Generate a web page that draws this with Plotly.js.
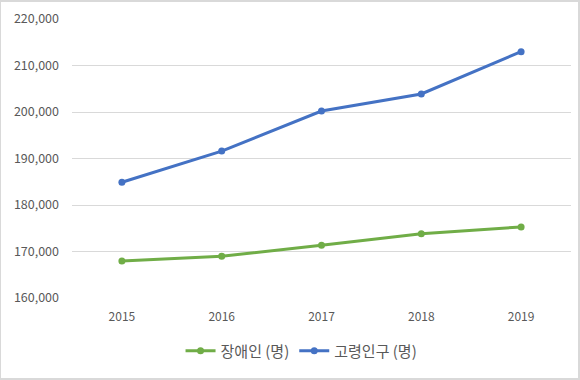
<!DOCTYPE html>
<html>
<head>
<meta charset="utf-8">
<script src="https://cdn.plot.ly/plotly-3.0.1.min.js"></script>
<style>html,body{margin:0;padding:0;background:#fff}#chart{width:580px;height:380px}</style>
</head>
<body>
<div id="chart"></div>
<script>
const years = ["2015", "2016", "2017", "2018", "2019"];
const disabledName = "장애인 (명)";
const disabledValues = [167950, 168980, 171330, 173830, 175270];
const elderlyName = "고령인구 (명)";
const elderlyValues = [184900, 191600, 200200, 203870, 212970];
const yTickValues = [160000, 170000, 180000, 190000, 200000, 210000, 220000];

const font = "'Noto Sans CJK KR', 'Noto Sans', sans-serif";
const traces = [
  {x: years, y: disabledValues, name: disabledName, type: "scatter", mode: "lines+markers",
   line: {color: "#70AD47", width: 3}, marker: {color: "#70AD47", size: 7}},
  {x: years, y: elderlyValues, name: elderlyName, type: "scatter", mode: "lines+markers",
   line: {color: "#4472C4", width: 3}, marker: {color: "#4472C4", size: 7}}
];
const layout = {
  width: 580, height: 380,
  margin: {l: 72, r: 9, t: 19, b: 82},
  paper_bgcolor: "#fff", plot_bgcolor: "#fff",
  font: {family: font, size: 12, color: "#595959"},
  xaxis: {type: "category", range: [-0.5, 4.5], showgrid: false, zeroline: false, showline: false,
          ticks: "", ticklabelstandoff: 10, tickfont: {size: 12, color: "#595959"}},
  yaxis: {range: [160000, 220000], tickvals: yTickValues, tickformat: ",d", showgrid: true,
          gridcolor: "#d9d9d9", gridwidth: 1, zeroline: false, showline: false, ticks: "",
          ticklabelstandoff: 12, tickfont: {size: 12.5, color: "#595959"}},
  showlegend: true,
  legend: {orientation: "h", x: 0.46, xanchor: "center", y: -0.19, yanchor: "middle",
           font: {size: 15, color: "#595959"}, itemwidth: 30},
  shapes: [{type: "rect", xref: "paper", yref: "paper", x0: -72/499, x1: 1 + 8/499, y0: -81/279, y1: 1 + 18/279,
            line: {color: "#d9d9d9", width: 2}}]
};
Plotly.newPlot("chart", traces, layout, {displayModeBar: false, staticPlot: true});
</script>
</body>
</html>
